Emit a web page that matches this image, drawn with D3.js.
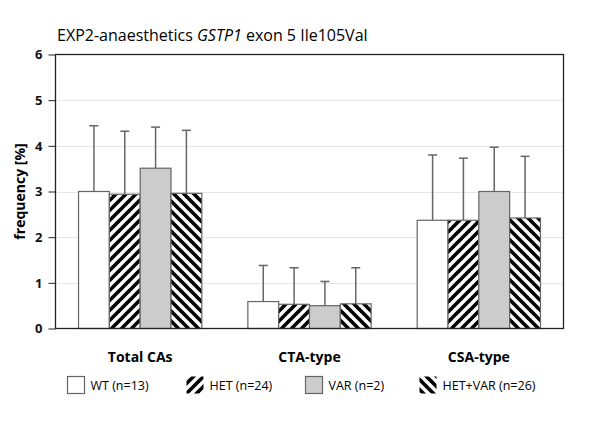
<!DOCTYPE html>
<html><head><meta charset="utf-8">
<script src="https://cdn.jsdelivr.net/npm/d3@7"></script>
<style>
body{margin:0;background:#fff;}
text{font-family:"Open Sans",sans-serif;}
</style></head>
<body><svg id="c" width="591" height="428"></svg>
<script>
const categories = ["Total CAs","CTA-type","CSA-type"];
const series = ["WT (n=13)","HET (n=24)","VAR (n=2)","HET+VAR (n=26)"];
const wtValues = [3.00, 0.59, 2.37];
const hetValues = [2.94, 0.53, 2.37];
const varValues = [3.51, 0.50, 3.00];
const hetvarValues = [2.96, 0.54, 2.42];
const wtErrTop = [4.44, 1.38, 3.80];
const hetErrTop = [4.32, 1.33, 3.73];
const varErrTop = [4.41, 1.03, 3.97];
const hetvarErrTop = [4.34, 1.33, 3.77];
const yTicks = [0,1,2,3,4,5,6];

const values = [wtValues, hetValues, varValues, hetvarValues];
const errTops = [wtErrTop, hetErrTop, varErrTop, hetvarErrTop];
const fills = ["#ffffff","url(#hatchF)","#cccccc","url(#hatchB)"];

const svg = d3.select("#c");
const pLeft = 55.5, pRight = 563.5, pTop = 54.5, pBottom = 328.5;

const defs = svg.append("defs");
function hatch(id, dir){
  const p = defs.append("pattern").attr("id",id).attr("patternUnits","userSpaceOnUse")
    .attr("width",10).attr("height",10);
  p.append("rect").attr("width",10).attr("height",10).attr("fill","#fff");
  const g = p.append("g").attr("stroke","#000").attr("stroke-width",3.6);
  if(dir>0){
    g.append("line").attr("x1",-5).attr("y1",5).attr("x2",5).attr("y2",-5);
    g.append("line").attr("x1",0).attr("y1",10).attr("x2",10).attr("y2",0);
    g.append("line").attr("x1",5).attr("y1",15).attr("x2",15).attr("y2",5);
  } else {
    g.append("line").attr("x1",-5).attr("y1",5).attr("x2",5).attr("y2",15);
    g.append("line").attr("x1",0).attr("y1",0).attr("x2",10).attr("y2",10);
    g.append("line").attr("x1",5).attr("y1",-5).attr("x2",15).attr("y2",5);
  }
}
hatch("hatchF",1);
hatch("hatchB",-1);

const x = d3.scaleBand().domain(categories).range([pLeft,pRight]).paddingInner(0.272).paddingOuter(0.136);
const xs = d3.scaleBand().domain(d3.range(series.length)).range([0,x.bandwidth()]);
const y = d3.scaleLinear().domain([0,6]).range([pBottom,pTop]);

// gridlines
svg.append("g").selectAll("line").data(yTicks.filter(t=>t>0&&t<6)).join("line")
  .attr("x1",pLeft).attr("x2",pRight).attr("y1",d=>Math.round(y(d))+0.5).attr("y2",d=>Math.round(y(d))+0.5)
  .attr("stroke","#e6e6e6").attr("stroke-width",1);

// error bars
const eb = svg.append("g");
series.forEach((s,si)=>{
  categories.forEach((c,ci)=>{
    const cx = x(c)+xs(si)+xs.bandwidth()/2;
    eb.append("line").attr("x1",cx).attr("x2",cx).attr("y1",y(values[si][ci])).attr("y2",y(errTops[si][ci]))
      .attr("stroke","#666").attr("stroke-width",1.5);
    eb.append("line").attr("x1",cx-4.5).attr("x2",cx+4.5).attr("y1",y(errTops[si][ci])).attr("y2",y(errTops[si][ci]))
      .attr("stroke","#666").attr("stroke-width",1.5);
  });
});

// bars
series.forEach((s,si)=>{
  svg.append("g").selectAll("rect").data(categories).join("rect")
    .attr("x",c=>x(c)+xs(si)).attr("width",xs.bandwidth())
    .attr("y",(c,ci)=>y(values[si][ci])).attr("height",(c,ci)=>y(0)-y(values[si][ci]))
    .attr("fill",fills[si]).attr("stroke","#666").attr("stroke-width",1.2);
});

// frame
svg.append("rect").attr("x",pLeft).attr("y",pTop).attr("width",pRight-pLeft).attr("height",pBottom-pTop)
  .attr("fill","none").attr("stroke","#222").attr("stroke-width",1.3);

// y axis
const ya = svg.append("g").attr("transform",`translate(${pLeft},0)`)
  .call(d3.axisLeft(y).tickValues(yTicks).tickFormat(d3.format("d")).tickSize(7).tickPadding(6));
ya.select(".domain").remove();
ya.selectAll("line").attr("stroke","#222");
ya.selectAll("text").attr("font-size",13).attr("font-weight","bold").attr("fill","#111")
  .style("font-family","'Open Sans',sans-serif");

svg.append("text").attr("transform",`translate(25,${(pTop+pBottom)/2}) rotate(-90)`)
  .attr("text-anchor","middle").attr("font-size",14).attr("font-weight","bold").text("frequency [%]");

// category labels
svg.append("g").selectAll("text").data(categories).join("text")
  .attr("x",c=>x(c)+x.bandwidth()/2).attr("y",362).attr("text-anchor","middle")
  .attr("font-size",14).attr("font-weight","bold").text(d=>d);

// title
const t = svg.append("text").attr("x",57).attr("y",41).attr("font-size",16);
t.append("tspan").text("EXP2-anaesthetics ");
t.append("tspan").attr("font-style","italic").text("GSTP1");
t.append("tspan").text(" exon 5 Ile105Val");

// legend
const legX = [67, 186, 305, 419];
const lg = svg.append("g");
series.forEach((s,si)=>{
  lg.append("rect").attr("x",legX[si]+0.5).attr("y",376.5).attr("width",17).attr("height",17)
    .attr("fill",fills[si]).attr("stroke",si%2? "none":"#666").attr("stroke-width",1.2);
  lg.append("text").attr("x",legX[si]+23.5).attr("y",390).attr("font-size",12.5).text(s);
});
</script></body></html>
